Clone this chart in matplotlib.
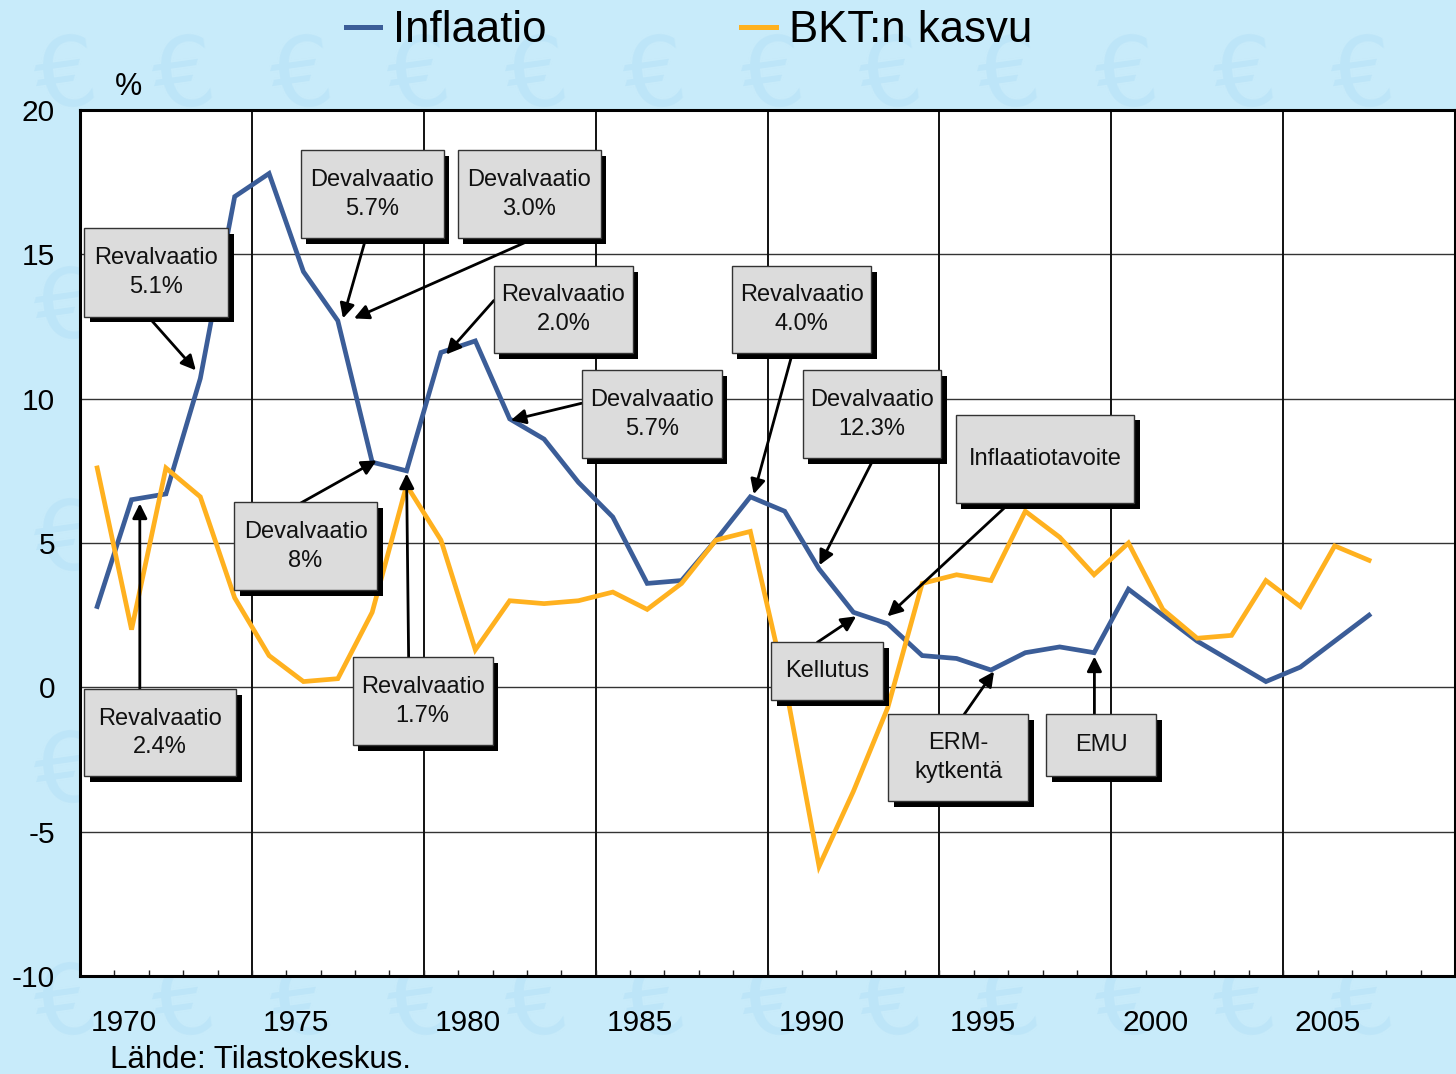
import matplotlib
matplotlib.use("Agg")
import matplotlib.pyplot as plt
import matplotlib.patheffects as pe
from matplotlib.patches import Rectangle
from matplotlib.lines import Line2D
import numpy as np

plt.rcParams['font.family'] = ['Liberation Sans', 'DejaVu Sans']
plt.rcParams['axes.unicode_minus'] = False

# data
years = list(range(1970, 2008))
inflaatio = [2.8, 6.5, 6.7, 10.7, 17.0, 17.8, 14.4, 12.7, 7.8, 7.5,
             11.6, 12.0, 9.3, 8.6, 7.1, 5.9, 3.6, 3.7, 5.1, 6.6,
             6.1, 4.1, 2.6, 2.2, 1.1, 1.0, 0.6, 1.2, 1.4, 1.2,
             3.4, 2.5, 1.6, 0.9, 0.2, 0.7, 1.6, 2.5]
bkt_kasvu = [7.6, 2.0, 7.6, 6.6, 3.1, 1.1, 0.2, 0.3, 2.6, 7.0,
             5.1, 1.3, 3.0, 2.9, 3.0, 3.3, 2.7, 3.6, 5.1, 5.4,
             0.2, -6.2, -3.6, -0.7, 3.6, 3.9, 3.7, 6.1, 5.2, 3.9,
             5.0, 2.7, 1.7, 1.8, 3.7, 2.8, 4.9, 4.4]
year_labels = ['1970', '1975', '1980', '1985', '1990', '1995', '2000', '2005']
y_ticks = [20, 15, 10, 5, 0, -5, -10]

# annotations: text, box centre (x, y), box size (w, h), arrow start, arrow end
notes = [
    ('Revalvaatio\n5.1%', (1971.71, 14.37), (4.19, 3.05), (1971.53, 12.78), (1972.87, 10.98)),
    ('Devalvaatio\n5.7%', (1978.00, 17.08), (4.16, 3.05), (1977.78, 15.41), (1977.15, 12.78)),
    ('Devalvaatio\n3.0%', (1982.57, 17.08), (4.16, 3.05), (1982.58, 15.48), (1977.47, 12.78)),
    ('Revalvaatio\n2.0%', (1983.56, 13.08), (4.04, 3.01), (1981.54, 13.40), (1980.15, 11.53)),
    ('Revalvaatio\n4.0%', (1990.49, 13.08), (4.07, 3.01), (1990.20, 11.47), (1989.10, 6.69)),
    ('Devalvaatio\n5.7%', (1986.13, 9.46), (4.07, 3.05), (1984.09, 9.84), (1982.03, 9.25)),
    ('Devalvaatio\n12.3%', (1992.54, 9.46), (4.04, 3.05), (1992.55, 7.83), (1991.01, 4.23)),
    ('Inflaatiotavoite', (1997.57, 7.91), (5.20, 3.08), (1996.53, 6.37), (1992.99, 2.46)),
    ('Devalvaatio\n8%', (1976.06, 4.88), (4.16, 3.05), (1975.90, 6.37), (1978.13, 7.86)),
    ('Revalvaatio\n2.4%', (1971.83, -1.58), (4.42, 3.01), (1971.24, -0.07), (1971.24, 6.37)),
    ('Revalvaatio\n1.7%', (1979.47, -0.48), (4.07, 3.05), (1979.06, 1.04), (1979.00, 7.41)),
    ('Kellutus', (1991.24, 0.55), (3.26, 2.01), (1990.95, 1.56), (1992.08, 2.46)),
    ('ERM-\nkytkentä', (1995.05, -2.44), (4.07, 3.01), (1995.22, -0.94), (1996.09, 0.55)),
    ('EMU', (1999.21, -2.01), (3.20, 2.15), (1999.01, -0.94), (1999.01, 1.07)),
]

blue = '#3b5d98'
orange = '#ffb11f'

fig = plt.figure(figsize=(14.56, 10.74), dpi=100, facecolor='#c8ebfa')

# faint euro watermark (kept inside the figure)
for r, yy in enumerate(np.arange(0.925, 0.06, -0.108)):
    off = 0.04 if r % 2 else 0.0
    for xx in np.arange(0.045 + off, 0.96, 0.081):
        fig.text(xx, yy, '€', fontsize=70, color='#bde5f8', ha='center', va='center',
                 zorder=-5, family='DejaVu Sans', rotation=8)

ax = fig.add_axes([80 / 1456, 1 - 976 / 1074, 1375 / 1456, 866 / 1074])
ax.set_facecolor('white')
ax.set_xlim(1969.5, 2009.5)
ax.set_ylim(-10, 20)

# grid
for y in [-5, 0, 5, 10, 15]:
    ax.axhline(y, color='#333333', lw=1.0, zorder=1)
for x in np.arange(1974.5, 2009, 5):
    ax.axvline(x, color='#111111', lw=1.4, zorder=1)

ax.plot(years, inflaatio, color=blue, lw=3.4, zorder=3, solid_joinstyle='miter')
ax.plot(years, bkt_kasvu, color=orange, lw=3.4, zorder=3, solid_joinstyle='miter')

# y axis
ax.set_yticks(y_ticks)
ax.set_yticklabels([str(v) for v in y_ticks], fontsize=21.5)
ax.tick_params(axis='y', length=0, pad=18)

# x axis: labels offset, minor ticks at category borders
label_pos = [int(s) + 0.78 for s in year_labels]
ax.set_xticks(label_pos)
ax.set_xticklabels(year_labels, fontsize=21.5)
ax.tick_params(axis='x', which='major', length=0, pad=24)
ax.set_xticks(np.arange(1970.5, 2009, 1), minor=True)
ax.tick_params(axis='x', which='minor', direction='in', length=4, width=1.0, color='#222222')

for s in ax.spines.values():
    s.set_linewidth(2.2)
    s.set_color('black')
    s.set_zorder(6)

# annotation boxes with shadow
for txt, (cx, cy), (w, h), (sx, sy), (ex, ey) in notes:
    ax.annotate('', xy=(ex, ey), xytext=(sx, sy),
                arrowprops=dict(arrowstyle='-|>', color='black', lw=2.0,
                                mutation_scale=22, shrinkA=0, shrinkB=0),
                zorder=4)
    rect = Rectangle((cx - w / 2, cy - h / 2), w, h, facecolor='#dcdcdc',
                     edgecolor='#333333', lw=1.0, zorder=5)
    rect.set_path_effects([pe.SimplePatchShadow(offset=(4, -4), shadow_rgbFace='black', alpha=1.0),
                           pe.Normal()])
    ax.add_patch(rect)
    ax.text(cx, cy, txt, ha='center', va='center', fontsize=17, linespacing=1.4,
            color='#111111', zorder=6)

# legend
handles = [Line2D([], [], color=blue, lw=3.6), Line2D([], [], color=orange, lw=3.6)]
fig.legend(handles, ['Inflaatio', 'BKT:n kasvu'], loc='center left',
           bbox_to_anchor=(346 / 1456, 1 - 31 / 1074), ncol=2, frameon=False,
           fontsize=31.5, handlelength=0.78, handletextpad=0.3, columnspacing=4.45,
           borderpad=0, borderaxespad=0)

fig.text(128 / 1456, 1 - 87 / 1074, '%', fontsize=22, ha='center', va='center')
fig.text(110 / 1456, 1 - 1068 / 1074, 'Lähde: Tilastokeskus.', fontsize=22.5,
         ha='left', va='baseline')

fig.savefig('out.png', dpi=100, facecolor=fig.get_facecolor())
